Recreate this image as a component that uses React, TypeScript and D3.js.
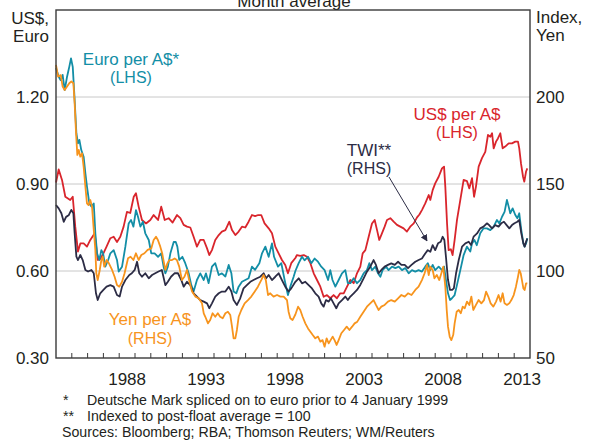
import React from "react";
import * as d3 from "d3";

// ---- Data (decimal year, value) ----
const usdPerAud: [number, number][] = [
  [1984.0, 0.905], [1984.17, 0.95], [1984.38, 0.914], [1984.59, 0.856], [1984.9, 0.845], [1985.06, 0.856],
  [1985.22, 0.753], [1985.39, 0.667], [1985.54, 0.695], [1985.75, 0.695], [1985.96, 0.684], [1986.17, 0.707],
  [1986.45, 0.73], [1986.64, 0.638], [1986.8, 0.641], [1987.0, 0.661], [1987.2, 0.684], [1987.44, 0.713],
  [1987.65, 0.718], [1987.86, 0.7], [1988.07, 0.718], [1988.28, 0.753], [1988.49, 0.804], [1988.7, 0.8],
  [1988.92, 0.856], [1989.06, 0.868], [1989.23, 0.822], [1989.44, 0.776], [1989.7, 0.764], [1989.97, 0.776],
  [1990.18, 0.793], [1990.46, 0.776], [1990.66, 0.822], [1990.88, 0.776], [1991.13, 0.782], [1991.38, 0.767],
  [1991.66, 0.793], [1991.87, 0.782], [1992.08, 0.759], [1992.29, 0.753], [1992.5, 0.75], [1992.71, 0.718],
  [1992.92, 0.684], [1993.13, 0.707], [1993.35, 0.707], [1993.56, 0.678], [1993.7, 0.655], [1993.87, 0.672],
  [1994.08, 0.707], [1994.3, 0.724], [1994.5, 0.736], [1994.72, 0.741], [1994.97, 0.77], [1995.14, 0.741],
  [1995.35, 0.724], [1995.56, 0.736], [1995.77, 0.753], [1995.98, 0.75], [1996.19, 0.77], [1996.4, 0.793],
  [1996.6, 0.789], [1996.8, 0.793], [1996.99, 0.793], [1997.2, 0.764], [1997.46, 0.747], [1997.67, 0.73],
  [1997.88, 0.684], [1998.09, 0.661], [1998.3, 0.638], [1998.51, 0.621], [1998.68, 0.592], [1998.89, 0.627],
  [1999.15, 0.645], [1999.25, 0.655], [1999.46, 0.652], [1999.68, 0.655], [1999.89, 0.649], [2000.1, 0.627],
  [2000.31, 0.592], [2000.52, 0.569], [2000.73, 0.546], [2000.94, 0.511], [2001.15, 0.517], [2001.36, 0.506],
  [2001.57, 0.517], [2001.78, 0.506], [2001.99, 0.523], [2002.21, 0.523], [2002.42, 0.546], [2002.63, 0.569],
  [2002.84, 0.558], [2003.05, 0.592], [2003.26, 0.615], [2003.41, 0.661], [2003.58, 0.672], [2003.79, 0.718],
  [2004.0, 0.764], [2004.17, 0.776], [2004.32, 0.741], [2004.46, 0.707], [2004.63, 0.73], [2004.8, 0.753],
  [2004.95, 0.776], [2005.16, 0.782], [2005.37, 0.77], [2005.58, 0.759], [2005.79, 0.753], [2006.0, 0.747],
  [2006.21, 0.736], [2006.42, 0.753], [2006.64, 0.764], [2006.85, 0.785], [2007.0, 0.795], [2007.16, 0.81],
  [2007.37, 0.833], [2007.59, 0.862], [2007.69, 0.845], [2007.84, 0.879], [2008.0, 0.902], [2008.22, 0.925],
  [2008.43, 0.954], [2008.56, 0.96], [2008.64, 0.891], [2008.75, 0.764], [2008.85, 0.672], [2008.99, 0.675],
  [2009.1, 0.655], [2009.23, 0.707], [2009.38, 0.776], [2009.59, 0.845], [2009.8, 0.914], [2010.01, 0.91],
  [2010.16, 0.885], [2010.33, 0.92], [2010.46, 0.856], [2010.58, 0.891], [2010.75, 0.96], [2010.96, 0.989],
  [2011.17, 1.011], [2011.34, 1.069], [2011.49, 1.063], [2011.6, 1.075], [2011.7, 1.023], [2011.85, 1.046],
  [2011.97, 1.057], [2012.12, 1.075], [2012.27, 1.023], [2012.43, 1.029], [2012.65, 1.04], [2012.86, 1.04],
  [2013.07, 1.046], [2013.24, 1.046], [2013.32, 1.023], [2013.43, 0.971], [2013.56, 0.925], [2013.64, 0.908],
  [2013.75, 0.943], [2013.83, 0.954],
];

const euroPerAud: [number, number][] = [
  [1984.0, 1.3], [1984.17, 1.27], [1984.3, 1.258], [1984.42, 1.276], [1984.55, 1.224], [1984.7, 1.27],
  [1984.84, 1.304], [1984.95, 1.333], [1985.06, 1.304], [1985.18, 1.19], [1985.29, 1.075], [1985.39, 1.04],
  [1985.48, 1.052], [1985.6, 1.017], [1985.75, 0.994], [1985.86, 0.937], [1985.96, 0.891], [1986.11, 0.833],
  [1986.24, 0.822], [1986.39, 0.833], [1986.49, 0.73], [1986.6, 0.661], [1986.74, 0.638], [1986.87, 0.672],
  [1986.98, 0.661], [1987.12, 0.615], [1987.3, 0.638], [1987.44, 0.661], [1987.65, 0.672], [1987.86, 0.638],
  [1987.97, 0.598], [1988.18, 0.615], [1988.39, 0.684], [1988.6, 0.764], [1988.75, 0.776], [1988.9, 0.753],
  [1989.06, 0.81], [1989.19, 0.787], [1989.34, 0.753], [1989.5, 0.77], [1989.65, 0.73], [1989.87, 0.707],
  [1990.03, 0.661], [1990.24, 0.661], [1990.46, 0.649], [1990.66, 0.661], [1990.81, 0.615], [1990.92, 0.592],
  [1991.08, 0.615], [1991.24, 0.661], [1991.45, 0.7], [1991.58, 0.7], [1991.68, 0.684], [1991.8, 0.638],
  [1992.0, 0.649], [1992.18, 0.627], [1992.4, 0.592], [1992.56, 0.552], [1992.71, 0.529], [1992.92, 0.569],
  [1993.13, 0.592], [1993.35, 0.569], [1993.49, 0.592], [1993.66, 0.558], [1993.87, 0.615], [1994.08, 0.627],
  [1994.3, 0.586], [1994.5, 0.592], [1994.72, 0.581], [1994.93, 0.621], [1995.1, 0.592], [1995.24, 0.529],
  [1995.41, 0.523], [1995.56, 0.546], [1995.77, 0.563], [1995.98, 0.569], [1996.19, 0.575], [1996.4, 0.615],
  [1996.6, 0.604], [1996.87, 0.627], [1997.04, 0.661], [1997.25, 0.684], [1997.46, 0.649], [1997.67, 0.695],
  [1997.8, 0.649], [1998.05, 0.615], [1998.26, 0.627], [1998.47, 0.569], [1998.68, 0.517], [1998.83, 0.546],
  [1999.04, 0.58], [1999.15, 0.6], [1999.36, 0.627], [1999.57, 0.649], [1999.73, 0.637], [1999.95, 0.649],
  [2000.16, 0.627], [2000.37, 0.643], [2000.58, 0.632], [2000.79, 0.615], [2001.0, 0.603], [2001.22, 0.569],
  [2001.36, 0.603], [2001.5, 0.569], [2001.68, 0.546], [2001.89, 0.569], [2002.1, 0.592], [2002.31, 0.603],
  [2002.47, 0.558], [2002.63, 0.558], [2002.84, 0.575], [2003.05, 0.558], [2003.26, 0.569], [2003.47, 0.592],
  [2003.68, 0.603], [2003.83, 0.627], [2004.0, 0.603], [2004.21, 0.615], [2004.38, 0.592], [2004.53, 0.58],
  [2004.67, 0.603], [2004.89, 0.615], [2005.05, 0.603], [2005.27, 0.615], [2005.48, 0.61], [2005.69, 0.615],
  [2005.9, 0.603], [2006.11, 0.61], [2006.32, 0.592], [2006.53, 0.603], [2006.74, 0.598], [2006.95, 0.603],
  [2007.16, 0.598], [2007.37, 0.615], [2007.53, 0.627], [2007.69, 0.603], [2007.84, 0.621], [2008.0, 0.603],
  [2008.22, 0.615], [2008.43, 0.603], [2008.56, 0.615], [2008.68, 0.569], [2008.81, 0.523], [2008.94, 0.5],
  [2009.06, 0.506], [2009.23, 0.517], [2009.38, 0.552], [2009.59, 0.603], [2009.8, 0.655], [2010.01, 0.684],
  [2010.22, 0.667], [2010.33, 0.695], [2010.48, 0.707], [2010.63, 0.689], [2010.85, 0.73], [2011.06, 0.747],
  [2011.27, 0.747], [2011.49, 0.741], [2011.7, 0.753], [2011.91, 0.776], [2012.06, 0.764], [2012.23, 0.787],
  [2012.39, 0.804], [2012.54, 0.845], [2012.65, 0.822], [2012.75, 0.799], [2012.9, 0.816], [2013.07, 0.793],
  [2013.2, 0.782], [2013.32, 0.799], [2013.45, 0.741], [2013.58, 0.695], [2013.66, 0.684], [2013.75, 0.695],
  [2013.83, 0.713],
];

const twiIndex: [number, number][] = [
  [1984.0, 137.9], [1984.17, 136], [1984.34, 133.2], [1984.49, 128.3], [1984.64, 131.1], [1984.8, 132],
  [1984.97, 135.1], [1985.1, 133.2], [1985.18, 121.7], [1985.29, 108.2], [1985.39, 106.3], [1985.54, 109.2],
  [1985.69, 106.3], [1985.86, 100.6], [1986.03, 99.7], [1986.24, 100.6], [1986.39, 98.7], [1986.53, 87.2],
  [1986.64, 83.3], [1986.8, 87.2], [1987.0, 89.1], [1987.2, 91.0], [1987.44, 91.9], [1987.65, 91.0],
  [1987.86, 86.2], [1988.03, 85.3], [1988.18, 91], [1988.39, 94.8], [1988.64, 97.7], [1988.8, 98.7],
  [1988.98, 100.6], [1989.13, 105.3], [1989.27, 98.7], [1989.44, 96.7], [1989.65, 98.7], [1989.87, 95.8],
  [1990.08, 97.7], [1990.28, 98.7], [1990.49, 99.7], [1990.7, 100.6], [1990.92, 91.9], [1991.08, 93.8],
  [1991.28, 96.7], [1991.5, 98.7], [1991.72, 98.7], [1991.93, 94.8], [1992.08, 91], [1992.29, 93.8],
  [1992.5, 91.9], [1992.71, 87.2], [1992.92, 85.3], [1993.13, 83.3], [1993.35, 82.4], [1993.56, 81.4],
  [1993.7, 78.6], [1993.87, 81.4], [1994.08, 85.3], [1994.3, 87.2], [1994.5, 88.2], [1994.72, 88.2],
  [1994.93, 91], [1995.1, 88.2], [1995.24, 83.3], [1995.45, 80.5], [1995.66, 84.3], [1995.87, 90],
  [1996.08, 91.9], [1996.3, 93.8], [1996.5, 94.8], [1996.72, 95.8], [1996.93, 96.7], [1997.14, 98.7],
  [1997.3, 95.8], [1997.46, 97.7], [1997.67, 94.8], [1997.88, 96.7], [1998.09, 98.7], [1998.3, 94.8],
  [1998.51, 91], [1998.72, 88.2], [1998.89, 90], [1999.15, 93.8], [1999.36, 95.8], [1999.57, 92.9],
  [1999.78, 93.8], [1999.99, 91.9], [2000.2, 90], [2000.41, 87.2], [2000.62, 85.3], [2000.79, 81.4],
  [2000.94, 79.5], [2001.09, 83.3], [2001.26, 82.4], [2001.4, 84.3], [2001.57, 81.4], [2001.74, 78.6],
  [2001.89, 81.4], [2002.1, 83.3], [2002.31, 85.3], [2002.47, 83.3], [2002.63, 85.3], [2002.84, 87.2],
  [2003.05, 89.1], [2003.26, 92], [2003.47, 95.8], [2003.68, 99.6], [2003.89, 102.5], [2004.1, 106.3],
  [2004.25, 103.5], [2004.42, 98.7], [2004.59, 100.6], [2004.8, 102.5], [2005.01, 103.5], [2005.22, 104.4],
  [2005.44, 103.5], [2005.65, 105.3], [2005.86, 103.5], [2006.07, 103.5], [2006.28, 101.6], [2006.5, 103.5],
  [2006.74, 105.3], [2006.95, 106.3], [2007.16, 107.2], [2007.37, 110.1], [2007.53, 112], [2007.69, 111],
  [2007.84, 114.9], [2008.0, 112], [2008.18, 115.9], [2008.35, 116.8], [2008.47, 119.7], [2008.58, 117.8],
  [2008.68, 108.2], [2008.81, 94.8], [2008.94, 89.1], [2009.06, 89.1], [2009.18, 90], [2009.32, 98.7],
  [2009.49, 106.3], [2009.7, 114], [2009.91, 115.9], [2010.12, 116.8], [2010.27, 114.9], [2010.43, 119.7],
  [2010.65, 121.6], [2010.85, 124.5], [2011.06, 125.5], [2011.27, 127.4], [2011.41, 126.4], [2011.6, 124.5],
  [2011.8, 126.4], [2012.01, 125.5], [2012.18, 127.4], [2012.35, 128.3], [2012.52, 126.4], [2012.69, 124.5],
  [2012.86, 126.4], [2013.02, 127.4], [2013.2, 128.3], [2013.32, 129.3], [2013.45, 121.6], [2013.58, 115.9],
  [2013.66, 114], [2013.75, 116.8], [2013.83, 118.7],
];

const yenPerAud: [number, number][] = [
  [1984.0, 218.4], [1984.13, 211.7], [1984.3, 212.6], [1984.42, 206], [1984.55, 204], [1984.7, 206],
  [1984.84, 207.9], [1984.97, 208.9], [1985.1, 207.9], [1985.18, 196.4], [1985.27, 179.1], [1985.35, 166.7],
  [1985.44, 169.6], [1985.54, 165.7], [1985.65, 167.6], [1985.75, 159.9], [1985.86, 148.4], [1985.96, 138.9],
  [1986.06, 137.9], [1986.17, 140.8], [1986.28, 137], [1986.39, 123.6], [1986.49, 112.1], [1986.55, 98.7],
  [1986.64, 94.8], [1986.77, 100.6], [1986.87, 106.3], [1986.96, 108.2], [1987.05, 102.5], [1987.2, 106.3],
  [1987.35, 104.4], [1987.55, 100.6], [1987.71, 96.7], [1987.86, 91.9], [1988.01, 91], [1988.18, 93.8],
  [1988.34, 98.7], [1988.56, 107.3], [1988.72, 108.2], [1988.9, 106.3], [1989.06, 110.2], [1989.23, 106.3],
  [1989.4, 109.2], [1989.6, 110.2], [1989.8, 112.1], [1990.03, 113], [1990.18, 117.8], [1990.33, 119.7],
  [1990.45, 117.8], [1990.6, 114], [1990.72, 110.2], [1990.84, 104.4], [1990.92, 100.6], [1991.05, 104.4],
  [1991.17, 106.3], [1991.34, 106.3], [1991.51, 107.2], [1991.65, 106.3], [1991.8, 102.5], [1991.97, 94.8],
  [1992.13, 96.7], [1992.29, 100.6], [1992.45, 93.8], [1992.61, 88.2], [1992.82, 85.3], [1993.03, 84.3],
  [1993.24, 81.4], [1993.35, 75.7], [1993.45, 73.7], [1993.62, 69.9], [1993.76, 71.8], [1993.91, 75.7],
  [1994.08, 73.7], [1994.24, 75.7], [1994.39, 73.7], [1994.55, 72.8], [1994.72, 75.7], [1994.88, 76.6],
  [1995.03, 74.7], [1995.14, 68], [1995.24, 61.3], [1995.35, 61.3], [1995.45, 66.1], [1995.56, 73.7],
  [1995.73, 77.6], [1995.94, 81.4], [1996.15, 83.3], [1996.36, 85.3], [1996.57, 88.1], [1996.78, 91],
  [1996.99, 94.8], [1997.14, 97.7], [1997.28, 94.8], [1997.42, 86.2], [1997.56, 87.2], [1997.77, 85.3],
  [1997.99, 86.2], [1998.2, 85.3], [1998.41, 85.3], [1998.62, 83.3], [1998.72, 76.6], [1998.83, 72.8],
  [1998.97, 71.8], [1999.15, 75], [1999.32, 79.5], [1999.46, 77.6], [1999.61, 73.7], [1999.78, 69.9],
  [1999.95, 67], [2000.1, 65.1], [2000.25, 63.2], [2000.41, 61.3], [2000.58, 62.3], [2000.73, 59.4],
  [2000.87, 60.3], [2001.0, 56.5], [2001.13, 61.3], [2001.26, 58.4], [2001.38, 60.3], [2001.51, 62.3],
  [2001.63, 60.3], [2001.76, 57.5], [2001.89, 60.3], [2002.06, 64.2], [2002.23, 66.1], [2002.4, 68],
  [2002.57, 66.1], [2002.74, 68], [2002.9, 69.9], [2003.07, 70.9], [2003.26, 73.7], [2003.47, 76.6],
  [2003.68, 79.5], [2003.89, 81.4], [2004.1, 83.3], [2004.25, 80.5], [2004.42, 77.6], [2004.59, 79.5],
  [2004.8, 80.5], [2005.01, 82.4], [2005.22, 83.3], [2005.44, 82.4], [2005.65, 84.3], [2005.86, 86.2],
  [2006.07, 85.3], [2006.28, 87.2], [2006.5, 86.2], [2006.74, 89.1], [2006.95, 91], [2007.16, 94.8],
  [2007.33, 98.7], [2007.48, 103.4], [2007.59, 97.7], [2007.69, 102.5], [2007.84, 100.6], [2007.95, 95.8],
  [2008.1, 97.7], [2008.26, 94.8], [2008.39, 98.7], [2008.51, 102.5], [2008.64, 91], [2008.73, 77.6],
  [2008.81, 68], [2008.92, 62.2], [2009.02, 60.3], [2009.14, 63.2], [2009.23, 69.9], [2009.36, 76.6],
  [2009.49, 77.6], [2009.62, 75.7], [2009.74, 79.5], [2009.87, 78.6], [2010.01, 82.4], [2010.16, 80.5],
  [2010.29, 85.3], [2010.41, 77.6], [2010.58, 80.5], [2010.75, 83.3], [2010.92, 81.4], [2011.09, 83.3],
  [2011.22, 88.1], [2011.36, 85.3], [2011.51, 81.4], [2011.68, 79.5], [2011.85, 82.4], [2012.01, 86.2],
  [2012.14, 82.4], [2012.27, 87.2], [2012.39, 81.4], [2012.54, 80.5], [2012.69, 81.4], [2012.82, 83.3],
  [2012.97, 86.2], [2013.11, 91], [2013.24, 96.7], [2013.32, 100.6], [2013.41, 98.7], [2013.49, 94.8],
  [2013.58, 90], [2013.66, 89.1], [2013.75, 92.9], [2013.83, 92.9],
];

const leftTicks = [0.3, 0.6, 0.9, 1.2];
const rightTicks = [50, 100, 150, 200];
const yearLabels = [1988, 1993, 1998, 2003, 2008, 2013];
const footnotes = [
  ["*", "Deutsche Mark spliced on to euro prior to 4 January 1999"],
  ["**", "Indexed to post-float average = 100"],
];
const sourcesText = "Sources: Bloomberg; RBA; Thomson Reuters; WM/Reuters";

const COL = {
  red: "#d9252c",
  teal: "#138ea6",
  dark: "#2c2c45",
  orange: "#f7941d",
  text: "#231f20",
  axis: "#3a3a3a",
  grid: "#c8c8c8",
};

export default function App() {
  const W = 591, H = 442;
  const L = 56, R = 530, T = 10, B = 358;
  const x = d3.scaleLinear().domain([1984, 2014]).range([L, R]);
  const yL = d3.scaleLinear().domain([0.3, 1.5]).range([B, T]);
  const yR = d3.scaleLinear().domain([50, 250]).range([B, T]);
  const lineL = d3.line<[number, number]>().x((d) => x(d[0])).y((d) => yL(d[1]));
  const lineR = d3.line<[number, number]>().x((d) => x(d[0])).y((d) => yR(d[1]));
  const font = "Arial, 'Liberation Sans', Helvetica, sans-serif";
  const years = d3.range(1985, 2014);

  return (
    <svg width={W} height={H} style={{ position: "absolute", left: 0, top: 0, background: "#fff" }} fontFamily={font}>
      <defs>
        <marker id="arr" viewBox="0 0 10 10" refX="9" refY="5" markerWidth="7" markerHeight="7" orient="auto">
          <path d="M0,0 L10,5 L0,10 z" fill={COL.dark} />
        </marker>
      </defs>
      <text x={294} y={6.5} fontSize={17} textAnchor="middle" fill={COL.text}>Month average</text>

      {/* gridlines */}
      {leftTicks.filter((t) => t > 0.3).map((t) => (
        <line key={t} x1={L} x2={R} y1={yL(t)} y2={yL(t)} stroke={COL.grid} strokeWidth={1} />
      ))}

      {/* series */}
      <path d={lineL(usdPerAud) || ""} fill="none" stroke={COL.red} strokeWidth={1.8} strokeLinejoin="round" />
      <path d={lineL(euroPerAud) || ""} fill="none" stroke={COL.teal} strokeWidth={1.8} strokeLinejoin="round" />
      <path d={lineR(twiIndex) || ""} fill="none" stroke={COL.dark} strokeWidth={1.8} strokeLinejoin="round" />
      <path d={lineR(yenPerAud) || ""} fill="none" stroke={COL.orange} strokeWidth={1.8} strokeLinejoin="round" />

      {/* frame */}
      <rect x={L} y={T} width={R - L} height={B - T} fill="none" stroke={COL.axis} strokeWidth={1.4} />
      {years.map((yr) => (
        <line key={yr} x1={x(yr)} x2={x(yr)} y1={B} y2={B - 5} stroke={COL.axis} strokeWidth={1} />
      ))}

      {/* left ticks */}
      {leftTicks.map((t) => (
        <text key={t} x={49} y={yL(t)} dy="0.35em" fontSize={17} textAnchor="end" fill={COL.text}>
          {d3.format(".2f")(t)}
        </text>
      ))}
      {rightTicks.map((t) => (
        <text key={t} x={536} y={yR(t)} dy="0.35em" fontSize={17} textAnchor="start" fill={COL.text}>
          {t}
        </text>
      ))}
      {yearLabels.map((yr) => (
        <text key={yr} x={x(yr + 0.5)} y={385} fontSize={17} textAnchor="middle" fill={COL.text}>
          {yr}
        </text>
      ))}

      {/* axis units */}
      <text x={49} y={24} fontSize={17} textAnchor="end" fill={COL.text}>US$,</text>
      <text x={49} y={42} fontSize={17} textAnchor="end" fill={COL.text}>Euro</text>
      <text x={536} y={23} fontSize={17} fill={COL.text}>Index,</text>
      <text x={536} y={41} fontSize={17} fill={COL.text}>Yen</text>

      {/* series labels */}
      <text x={131} y={65} fontSize={17} textAnchor="middle" fill={COL.teal}>Euro per A$*</text>
      <text x={131} y={83} fontSize={16} textAnchor="middle" fill={COL.teal}>(LHS)</text>
      <text x={457} y={120} fontSize={17} textAnchor="middle" fill={COL.red}>US$ per A$</text>
      <text x={457} y={138} fontSize={16} textAnchor="middle" fill={COL.red}>(LHS)</text>
      <text x={369} y={156} fontSize={17} textAnchor="middle" fill={COL.dark}>TWI**</text>
      <text x={369} y={174} fontSize={16} textAnchor="middle" fill={COL.dark}>(RHS)</text>
      <line x1={389} y1={177} x2={427} y2={241} stroke={COL.dark} strokeWidth={1} markerEnd="url(#arr)" />
      <text x={150} y={325} fontSize={17} textAnchor="middle" fill={COL.orange}>Yen per A$</text>
      <text x={150} y={344} fontSize={16} textAnchor="middle" fill={COL.orange}>(RHS)</text>

      {/* footnotes */}
      {footnotes.map((f, i) => (
        <g key={i} fontSize={14.2} fill={COL.text}>
          <text x={63} y={405 + i * 16}>{f[0]}</text>
          <text x={87} y={405 + i * 16}>{f[1]}</text>
        </g>
      ))}
      <text x={62} y={437} fontSize={14.2} fill={COL.text}>{sourcesText}</text>
    </svg>
  );
}
